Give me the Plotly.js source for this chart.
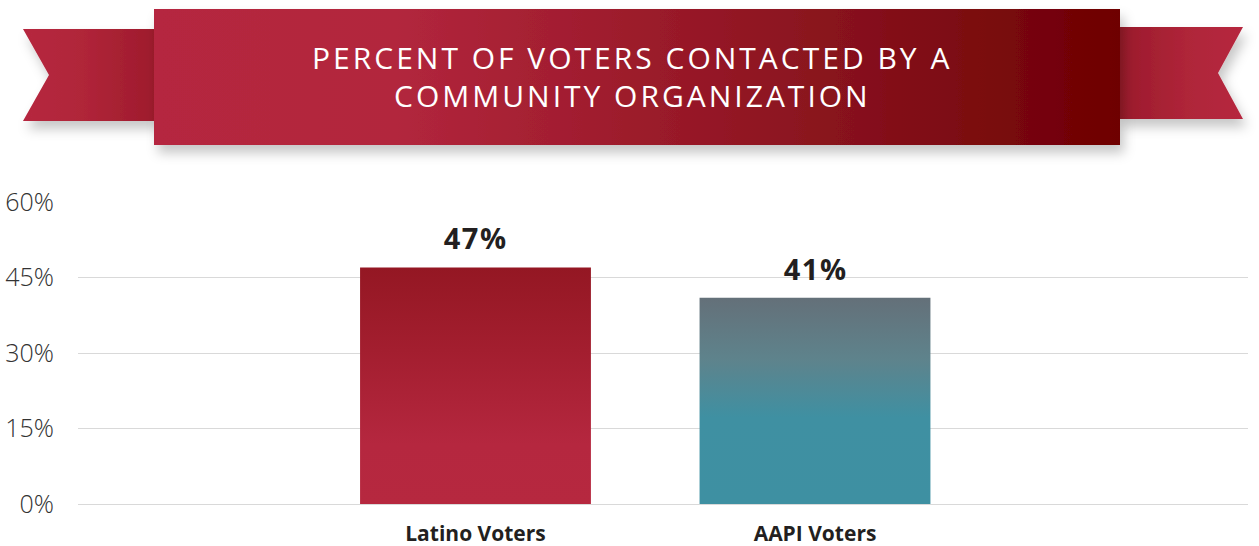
<!DOCTYPE html>
<html>
<head>
<meta charset="utf-8">
<script src="https://cdn.plot.ly/plotly-3.0.1.min.js"></script>
<style>
  html, body { margin: 0; padding: 0; background: #ffffff; }
  #chart { width: 1259px; height: 546px; }
</style>
</head>
<body>
<div id="chart"></div>
<script>
// ---- data ----
const categories = ["Latino Voters", "AAPI Voters"];
const values = [47, 41];
const tickValues = [0, 15, 30, 45, 60];
const tickLabels = ["0%", "15%", "30%", "45%", "60%"];
const titleLines = ["PERCENT OF VOTERS CONTACTED BY A", "COMMUNITY ORGANIZATION"];

// ---- geometry helpers (pixel -> paper) for decorative banner ----
const W = 1259, H = 546;
const M = { l: 78, r: 11, t: 202, b: 42 };
const PW = W - M.l - M.r, PH = H - M.t - M.b;
const px = x => (x - M.l) / PW;
const py = y => (H - M.b - y) / PH;
function poly(pts) {
  return pts.map((p, i) => (i ? 'L' : 'M') + px(p[0]).toFixed(5) + ',' + py(p[1]).toFixed(5)).join(' ') + ' Z';
}

const shapes = [
  // left ribbon tail
  { type: 'path', xref: 'paper', yref: 'paper', layer: 'above', line: { width: 0 }, fillcolor: '#ab2236',
    path: poly([[23, 29], [156, 29], [156, 121], [23, 121], [49, 75]]) },
  // right ribbon tail
  { type: 'path', xref: 'paper', yref: 'paper', layer: 'above', line: { width: 0 }, fillcolor: '#ab2236',
    path: poly([[1118, 27], [1243, 27], [1218, 73], [1243, 119], [1118, 119]]) },
  // main banner
  { type: 'path', xref: 'paper', yref: 'paper', layer: 'above', line: { width: 0 }, fillcolor: '#9a1a2a',
    path: poly([[154, 9], [1120, 9], [1120, 145], [154, 145]]) }
];

const trace = {
  type: 'bar',
  x: categories,
  y: values,
  width: 0.68,
  marker: { color: ['#a82036', '#4f8a98'], line: { width: 0 } },
  hoverinfo: 'skip'
};

const annotations = categories.map((c, i) => ({
  x: c, y: values[i], xref: 'x', yref: 'y',
  text: values[i] + '%', showarrow: false,
  yanchor: 'bottom', yshift: 8,
  font: { family: 'Open Sans, sans-serif', size: 29, weight: 700, color: '#231f20' }
}));
const titleY = [57, 95];
titleLines.forEach((t, i) => annotations.push({
  x: px(632), y: py(titleY[i]), xref: 'paper', yref: 'paper',
  text: t, showarrow: false,
  xanchor: 'center', yanchor: 'middle', align: 'center',
  font: { family: 'Open Sans, sans-serif', size: 30, color: '#ffffff' }
}));

const layout = {
  width: W, height: H,
  margin: M,
  paper_bgcolor: '#ffffff', plot_bgcolor: '#ffffff',
  showlegend: false,
  xaxis: {
    type: 'category',
    range: [-1.1708, 2.2754],
    showgrid: false, zeroline: false, showline: false,
    ticks: '', ticklabelstandoff: 15,
    tickfont: { family: 'Open Sans, sans-serif', size: 21, weight: 700, color: '#231f20' },
    fixedrange: true
  },
  yaxis: {
    range: [0, 60],
    tickmode: 'array',
    tickvals: tickValues,
    ticktext: tickLabels,
    showgrid: true, gridcolor: '#d9d9d9', gridwidth: 1,
    zeroline: true, zerolinecolor: '#d9d9d9', zerolinewidth: 1,
    showline: false, ticks: '',
    ticklabelstandoff: 23,
    tickfont: { family: 'Open Sans, sans-serif', size: 25, weight: 300, color: '#333333' },
    fixedrange: true
  },
  shapes: shapes,
  annotations: annotations
};

Plotly.newPlot('chart', [trace], layout, { displayModeBar: false, staticPlot: true }).then(gd => {
  const NS = 'http://www.w3.org/2000/svg';
  const svg = gd.querySelector('svg.main-svg');
  let defs = svg.querySelector('defs');
  if (!defs) { defs = document.createElementNS(NS, 'defs'); svg.insertBefore(defs, svg.firstChild); }
  function grad(id, vertical, stops) {
    const g = document.createElementNS(NS, 'linearGradient');
    g.setAttribute('id', id);
    g.setAttribute('x1', '0'); g.setAttribute('y1', '0');
    g.setAttribute('x2', vertical ? '0' : '1'); g.setAttribute('y2', vertical ? '1' : '0');
    stops.forEach(s => {
      const st = document.createElementNS(NS, 'stop');
      st.setAttribute('offset', s[0]); st.setAttribute('stop-color', s[1]);
      g.appendChild(st);
    });
    defs.appendChild(g);
  }
  grad('gLatino', true, [[0, '#941723'], [0.35, '#a31e2f'], [0.75, '#b5273f'], [1, '#b6283f']]);
  grad('gAapi', true, [[0, '#647079'], [0.3, '#5e838c'], [0.58, '#3f90a2'], [1, '#3e90a2']]);
  grad('gMain', false, [[0, '#b5283f'], [0.25, '#b2263d'], [0.5, '#9c1b2b'], [0.75, '#84101a'], [1, '#6e0001']]);
  grad('gLeft', false, [[0, '#b6283f'], [0.45, '#b02539'], [1, '#9e1b2c']]);
  grad('gRight', false, [[0, '#9a1a2b'], [0.55, '#af2539'], [1, '#b6283f']]);

  const f = document.createElementNS(NS, 'filter');
  f.setAttribute('id', 'shadow');
  f.setAttribute('x', '-10%'); f.setAttribute('y', '-20%');
  f.setAttribute('width', '125%'); f.setAttribute('height', '160%');
  const ds = document.createElementNS(NS, 'feDropShadow');
  ds.setAttribute('dx', '4'); ds.setAttribute('dy', '8');
  ds.setAttribute('stdDeviation', '6');
  ds.setAttribute('flood-color', '#000'); ds.setAttribute('flood-opacity', '0.22');
  f.appendChild(ds);
  defs.appendChild(f);

  const bars = gd.querySelectorAll('.bars .point path');
  if (bars[0]) bars[0].style.fill = 'url(#gLatino)';
  if (bars[1]) bars[1].style.fill = 'url(#gAapi)';

  const sp = gd.querySelectorAll('.shapelayer path');
  const ids = ['gLeft', 'gRight', 'gMain'];
  sp.forEach((p, i) => {
    if (ids[i]) {
      p.style.fill = 'url(#' + ids[i] + ')';
      p.style.fillOpacity = 1;
      p.setAttribute('filter', 'url(#shadow)');
    }
  });

  // letter spacing on the banner title and value labels
  const annTexts = gd.querySelectorAll('.annotation-text');
  annTexts.forEach((t, i) => {
    if (i >= categories.length) t.style.letterSpacing = '3px';
    else t.style.letterSpacing = '1.5px';
  });
});
</script>
</body>
</html>
